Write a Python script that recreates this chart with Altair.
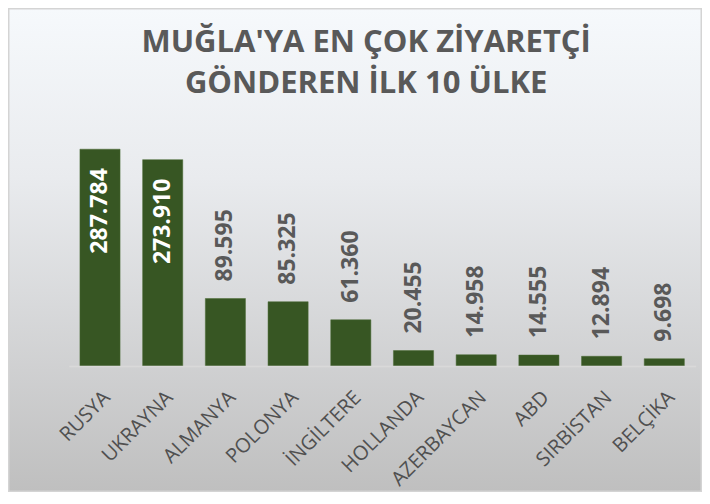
import altair as alt
import pandas as pd

countries = ["RUSYA", "UKRAYNA", "ALMANYA", "POLONYA", "İNGİLTERE", "HOLLANDA",
             "AZERBAYCAN", "ABD", "SIRBİSTAN", "BELÇİKA"]
visitors = [287784, 273910, 89595, 85325, 61360, 20455, 14958, 14555, 12894, 9698]
title_lines = ["MUĞLA'YA EN ÇOK ZİYARETÇİ", "GÖNDEREN İLK 10 ÜLKE"]

df = pd.DataFrame({"country": countries, "value": visitors})
df["label"] = [f"{v:,}".replace(",", ".") for v in visitors]

W, H = 627, 226
PL, PT, PR, PB = 60.65, 132, 6.35, 126

FONT = "Open Sans"
GRAY = "#595959"

bg = alt.Chart(alt.Data(values=[{}])).mark_rect(
    color=alt.Gradient(gradient="linear",
                       stops=[alt.GradientStop(color="#f6f9fc", offset=0),
                              alt.GradientStop(color="#e9ebee", offset=0.35),
                              alt.GradientStop(color="#bfbfbf", offset=1)],
                       x1=0, x2=0, y1=0, y2=1),
    stroke="#d4d4d4", strokeWidth=1.5
).encode(x=alt.value(-PL + 0.75), x2=alt.value(W + PR - 0.75),
         y=alt.value(-PT + 0.75), y2=alt.value(H + PB - 0.75))

title = alt.Chart(alt.Data(values=[{}])).mark_text(
    text=title_lines, font=FONT, fontSize=31, fontWeight="bold", color=GRAY,
    align="center", baseline="alphabetic", lineHeight=41
).encode(x=alt.value(W / 2 - 16), y=alt.value(-88))

xenc = alt.X("country:N", sort=countries,
             scale=alt.Scale(paddingInner=0.36, paddingOuter=0.18),
             axis=alt.Axis(title=None, labelAngle=-45, labelFont=FONT, labelFontSize=20,
                           labelFontWeight=500, labelColor="#505050", ticks=False,
                           domainColor="#d9d9d9", domainWidth=1.5, labelPadding=21,
                           zindex=1))
yenc = alt.Y("value:Q", scale=alt.Scale(domain=[0, 300000], nice=False),
             axis=None)

bars = alt.Chart(df).mark_bar(color="#375623", stroke="#4a6b35", strokeWidth=0.5).encode(
    x=xenc, y=yenc)

inside = alt.Chart(df).transform_filter("datum.value > 200000").mark_text(
    angle=270, align="right", baseline="middle", dx=-19, font=FONT,
    fontSize=23, fontWeight="bold", color="white").encode(
    x=alt.X("country:N", sort=countries), y="value:Q", text="label:N")

outside = alt.Chart(df).transform_filter("datum.value <= 200000").mark_text(
    angle=270, align="left", baseline="middle", dx=17, font=FONT,
    fontSize=23, fontWeight="bold", color=GRAY).encode(
    x=alt.X("country:N", sort=countries), y="value:Q", text="label:N")

chart = alt.layer(bg, title, bars, inside, outside).properties(
    width=W, height=H,
    autosize=alt.AutoSizeParams(type="none"),
    padding={"left": PL, "top": PT, "right": PR, "bottom": PB},
    background="white"
).configure_view(strokeWidth=0)

chart.save("out.html", embed_options={"renderer": "svg", "actions": False})
